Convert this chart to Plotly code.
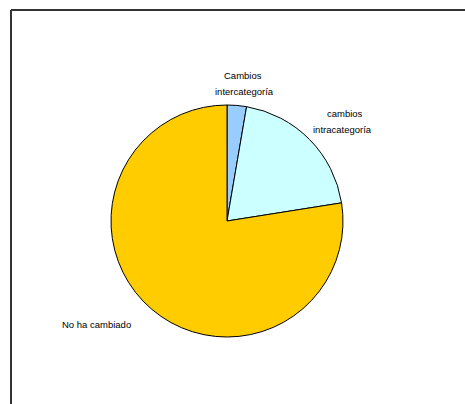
import plotly.graph_objects as go

# Share of cases by type of change
labels = ["Cambios intercategoría", "cambios intracategoría", "No ha cambiado"]
values = [2.7, 19.8, 77.5]
colors = ["#99CCFF", "#CCFFFF", "#FFCC00"]

W, H = 465, 404
cx, cy, r = 227, 221, 116

fig = go.Figure(go.Pie(
    labels=labels,
    values=values,
    sort=False,
    direction="clockwise",
    rotation=0,
    textinfo="none",
    hoverinfo="label+percent",
    marker=dict(colors=colors, line=dict(color="#000000", width=1)),
    domain=dict(x=[(cx - r) / W, (cx + r) / W],
                y=[1 - (cy + r) / H, 1 - (cy - r) / H]),
    showlegend=False,
))

# Category labels placed beside their slices (one annotation per text line)
label_lines = [
    ("Cambios", 243, 76),
    ("intercategoría", 244, 92),
    ("cambios", 345, 113),
    ("intracategoría", 342, 129),
    ("No ha cambiado", 96, 324),
]
for txt, x, y in label_lines:
    fig.add_annotation(
        text=txt, x=x / W, y=1 - y / H, xref="paper", yref="paper",
        showarrow=False, xanchor="center", yanchor="middle",
        font=dict(family="Liberation Sans, Arial, sans-serif", size=9.5, color="#000000"),
    )

# Frame lines along the top and left of the chart area
frame = dict(color="#333333", width=2)
fig.add_shape(type="line", xref="paper", yref="paper",
              x0=11 / W, x1=1.0, y0=1 - 10 / H, y1=1 - 10 / H, line=frame)
fig.add_shape(type="line", xref="paper", yref="paper",
              x0=11 / W, x1=11 / W, y0=1 - 10 / H, y1=0.0, line=frame)

fig.update_layout(
    width=W, height=H,
    margin=dict(l=0, r=0, t=0, b=0),
    paper_bgcolor="#FFFFFF",
    plot_bgcolor="#FFFFFF",
)

fig.write_html("out.html")
